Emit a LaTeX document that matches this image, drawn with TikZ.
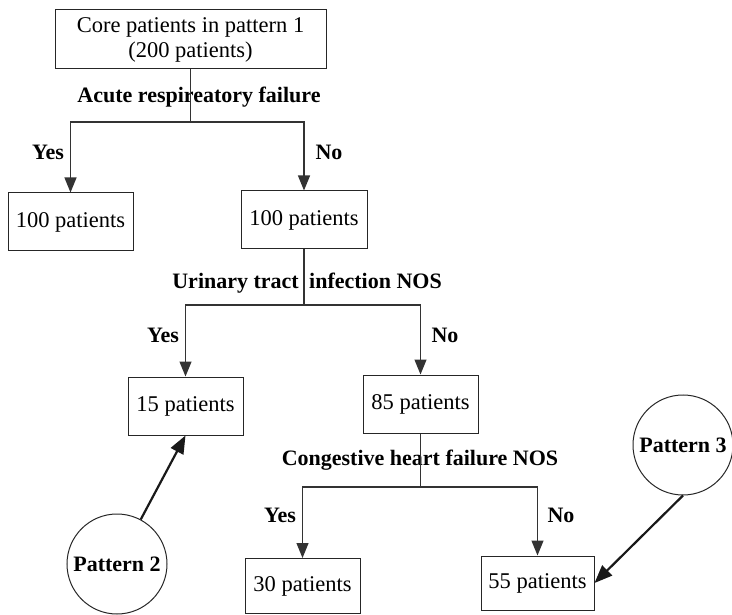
\documentclass[tikz,border=0pt]{standalone}
\usepackage{fontspec}
\setmainfont{Liberation Serif}
\usetikzlibrary{arrows.meta}
\begin{document}
\begin{tikzpicture}[x=1pt,y=-1pt,
  box/.style={draw=black!85,line width=1pt,inner sep=0pt,align=center,font=\fontsize{22.5}{25}\selectfont},
  lbl/.style={inner sep=0pt,font=\fontsize{22}{25}\selectfont\bfseries},
  pat/.style={draw=black!85,line width=1pt,circle,minimum size=100pt,inner sep=0pt,font=\fontsize{22}{25}\selectfont\bfseries},
  conn/.style={draw=black!80,line width=1.2pt},
  arr/.style={conn,-{Triangle[length=15pt,width=12pt]}},
  parr/.style={draw=black!90,line width=2.2pt,-{Triangle[length=18pt,width=14pt]}}]
\useasboundingbox (0,0) rectangle (732,615);
% boxes
\node[box,minimum width=271pt,minimum height=59pt] (top) at (190.5,39.5) {Core patients in pattern 1\\(200 patients)};
\node[box,minimum width=125pt,minimum height=58pt] (a) at (70.5,222) {100 patients};
\node[box,minimum width=126pt,minimum height=58pt] (b) at (304,220) {100 patients};
\node[box,minimum width=115pt,minimum height=58pt] (c) at (185.5,406) {15 patients};
\node[box,minimum width=115pt,minimum height=58pt] (d) at (420.5,404) {85 patients};
\node[box,minimum width=115pt,minimum height=55pt] (e) at (302.5,586) {30 patients};
\node[box,minimum width=113pt,minimum height=54pt] (f) at (537.5,583) {55 patients};
% pattern circles
\node[pat] (p2) at (117,564) {Pattern 2};
\node[pat] (p3) at (683,445) {Pattern 3};
% criterion labels
\node[lbl] (l1) at (199,97) {Acute respireatory failure};
\node[lbl,anchor=base east] (l2a) at (299,288) {Urinary tract};
\node[lbl,anchor=base west] (l2b) at (309,288) {infection NOS};
\node[lbl] (l3) at (420,460) {Congestive heart failure NOS};
% yes/no labels
\node[lbl] (y1) at (48,152) {Yes};
\node[lbl] (n1) at (329,152) {No};
\node[lbl] (y2) at (163,335) {Yes};
\node[lbl] (n2) at (445,335) {No};
\node[lbl] (y3) at (280,515) {Yes};
\node[lbl] (n3) at (561,515) {No};
% junctions
\coordinate (j1) at (190.5,122);
\coordinate (j2) at (304,305);
\coordinate (j3) at (420.5,487);
% connectors
\draw[conn] (top.south) -- (j1);
\draw[arr] (j1) -| (a.north);
\draw[arr] (j1) -| (b.north);
\draw[conn] (b.south) -- (j2);
\draw[arr] (j2) -| (c.north);
\draw[arr] (j2) -| (d.north);
\draw[conn] (d.south) -- (j3);
\draw[arr] (j3) -| (e.north);
\draw[arr] (j3) -| (f.north);
% pattern arrows
\draw[parr] (p2) -- (c.south);
\draw[parr] (p3.south) -- (f.east);
\end{tikzpicture}
\end{document}
